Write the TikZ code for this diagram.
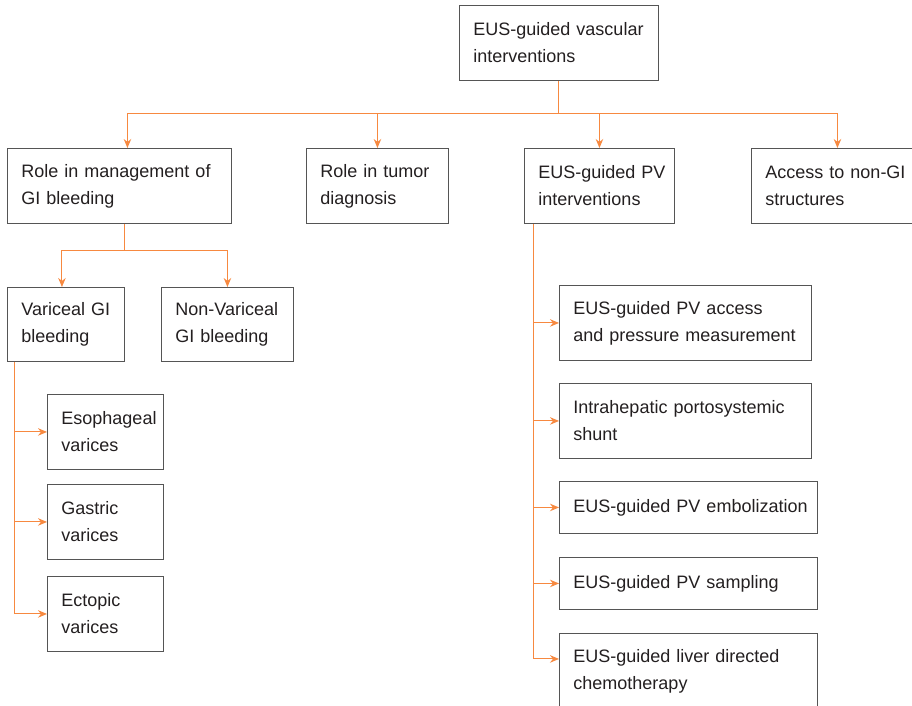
\documentclass[tikz,border=0pt]{standalone}
\usepackage{fontspec}
\setmainfont{Liberation Sans}
\usetikzlibrary{arrows.meta,positioning}
\definecolor{linkorange}{RGB}{247,137,64}
\definecolor{boxgray}{RGB}{85,85,85}
\definecolor{textdark}{RGB}{35,31,32}
\tikzset{
  basic/.style = {draw=boxgray, line width=0.9pt, rectangle, anchor=north west,
                  align=left, inner xsep=0pt, inner ysep=0pt, text=textdark,
                  font=\fontsize{18}{27}\selectfont,
                  execute at begin node={\leftskip=14pt\relax}},
  box/.style   = {basic, minimum height=75pt},
  flat/.style  = {basic, minimum height=52pt},
  link/.style  = {draw=linkorange, line width=1pt},
  arrow/.style = {link, -{Stealth[length=9pt,width=7.5pt]}}
}

\begin{document}
\begin{tikzpicture}[x=1pt, y=-1pt]
\useasboundingbox (0,0) rectangle (912,706);

% root
\node[box, text width=199pt] (root) at (459,5) {EUS-guided vascular\\interventions};

% first level
\node[box, text width=224pt] (role)   at (7,148)   {Role in management of\\GI bleeding};
\node[box, text width=142pt] (tumor)  at (306,148) {Role in tumor\\diagnosis};
\node[box, text width=150pt] (pv)     at (524,148) {EUS-guided PV\\interventions};
\node[box, text width=172pt] (access) at (751,148) {Access to non-GI\\structures};

\coordinate (bus) at ([yshift=-33pt]root.south);
\draw[link] (root.south) -- (bus);
\draw[arrow] (bus) -| ([xshift=8pt]role.north);
\draw[arrow] (bus) -| (tumor.north);
\draw[arrow] (bus) -| (pv.north);
\draw[arrow] (bus) -| (access.north);

% GI bleeding
\node[box, minimum height=74pt, text width=117pt] (var)    at (7,287)   {Variceal GI\\bleeding};
\node[box, minimum height=74pt, text width=132pt] (nonvar) at (161,287) {Non-Variceal\\GI bleeding};

\coordinate (gibus) at ([xshift=5pt,yshift=-27pt]role.south);
\draw[link] ([xshift=5pt]role.south) -- (gibus);
\draw[arrow] (gibus) -| ([xshift=-4pt]var.north);
\draw[arrow] (gibus) -| (nonvar.north);

% varices
\node[box, text width=116pt] (eso)  at (47,394) {Esophageal\\varices};
\node[box, text width=116pt] (gas)  at (47,484) {Gastric\\varices};
\node[box, text width=116pt] (ecto) at (47,576) {Ectopic\\varices};

\coordinate (vtrunk) at ([xshift=7pt]var.south west);
\draw[link] (vtrunk) -- (vtrunk |- ecto.west);
\foreach \n in {eso,gas,ecto}
  \draw[arrow] (vtrunk |- \n.west) -- (\n.west);

% PV interventions
\node[box, text width=252pt]  (access2) at (559,285) {EUS-guided PV access\\and pressure measurement};
\node[box, text width=252pt]  (shunt)   at (559,383) {Intrahepatic portosystemic\\shunt};
\node[flat, text width=258pt] (embo)    at (559,481) {EUS-guided PV embolization};
\node[flat, text width=258pt] (sample)  at (559,557) {EUS-guided PV sampling};
\node[box, text width=258pt]  (chemo)   at (559,633) {EUS-guided liver directed\\chemotherapy};

\coordinate (ptrunk) at ([xshift=9pt]pv.south west);
\coordinate (pend) at ([yshift=12pt]ptrunk |- chemo.west);
\draw[link] (ptrunk) -- (pend);
\foreach \n in {access2,shunt,embo,sample}
  \draw[arrow] (ptrunk |- \n.west) -- (\n.west);
\draw[arrow] (pend) -- (pend -| chemo.west);
\end{tikzpicture}
\end{document}
